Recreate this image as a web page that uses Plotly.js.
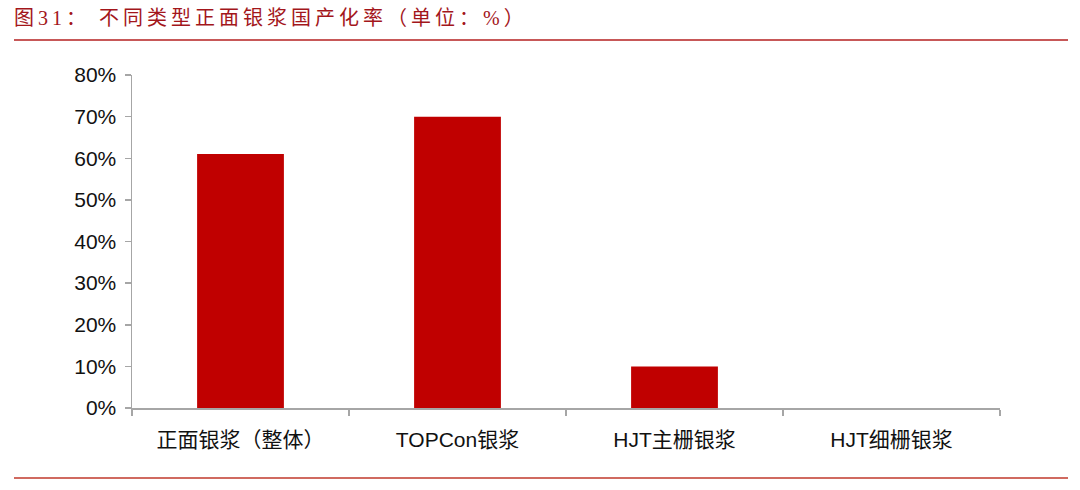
<!DOCTYPE html>
<html>
<head>
<meta charset="utf-8">
<script src="https://cdn.plot.ly/plotly-3.0.1.min.js"></script>
<style>
html,body{margin:0;padding:0;background:#fff;}
#chart{width:1080px;height:490px;}
</style>
</head>
<body>
<div id="chart"></div>
<script>
var categories = ["正面银浆（整体）", "TOPCon银浆", "HJT主栅银浆", "HJT细栅银浆"];
var values = [61, 70, 10, 0];
var yTickVals = [0, 10, 20, 30, 40, 50, 60, 70, 80];
var yTickText = ["0%", "10%", "20%", "30%", "40%", "50%", "60%", "70%", "80%"];
var titleLabel = "图31：";
var titleBody = "不同类型正面银浆国产化率（单位：%）";

var W = 1080, H = 490, L = 132, R = 80, T = 75, B = 82;
var pw = W - L - R, ph = H - T - B;
function px(x){ return (x - L) / pw; }
function py(y){ return (H - B - y) / ph; }
function spaced(s){ return Array.from(s).join("\u2009"); }
var titleText = spaced(titleLabel) + "\u2009\u00a0\u2009" + spaced(titleBody);

var trace = {
  type: "bar",
  x: categories,
  y: values,
  marker: { color: "#c00000" },
  hoverinfo: "none"
};

var layout = {
  width: W, height: H,
  margin: { l: L, r: R, t: T, b: B, pad: 0 },
  paper_bgcolor: "#fff",
  plot_bgcolor: "#fff",
  showlegend: false,
  bargap: 0.6,
  font: { family: "Arial, 'Liberation Sans', 'Noto Sans CJK SC', sans-serif", size: 21, color: "#111111" },
  xaxis: {
    type: "category",
    showline: true, linecolor: "#a6a6a6", linewidth: 1.5,
    ticks: "outside", tickson: "boundaries", ticklen: 6, tickcolor: "#a6a6a6", tickwidth: 1.5,
    ticklabelstandoff: 12,
    showgrid: false, zeroline: false,
    tickfont: { size: 21, color: "#111111" }
  },
  yaxis: {
    range: [0, 80],
    tickvals: yTickVals, ticktext: yTickText,
    showline: true, linecolor: "#a6a6a6", linewidth: 1.5,
    ticks: "outside", ticklen: 6, tickcolor: "#a6a6a6", tickwidth: 1.5,
    ticklabelstandoff: 4,
    showgrid: false, zeroline: false,
    tickfont: { size: 21, color: "#111111" }
  },
  annotations: [{
    xref: "paper", yref: "paper",
    x: px(12), y: py(18), xanchor: "left", yanchor: "middle",
    text: titleText, showarrow: false,
    font: { family: "'Liberation Serif', 'Times New Roman', 'Noto Sans CJK SC', serif", size: 20, color: "#a3161b" }
  }],
  shapes: [
    { type: "line", xref: "paper", yref: "paper", x0: px(14), x1: px(1068), y0: py(40), y1: py(40), line: { color: "#b52020", width: 1.5 } },
    { type: "line", xref: "paper", yref: "paper", x0: px(14), x1: px(1068), y0: py(478), y1: py(478), line: { color: "#c0392b", width: 1.5 } }
  ]
};

Plotly.newPlot("chart", [trace], layout, { displayModeBar: false, staticPlot: true });
</script>
</body>
</html>
